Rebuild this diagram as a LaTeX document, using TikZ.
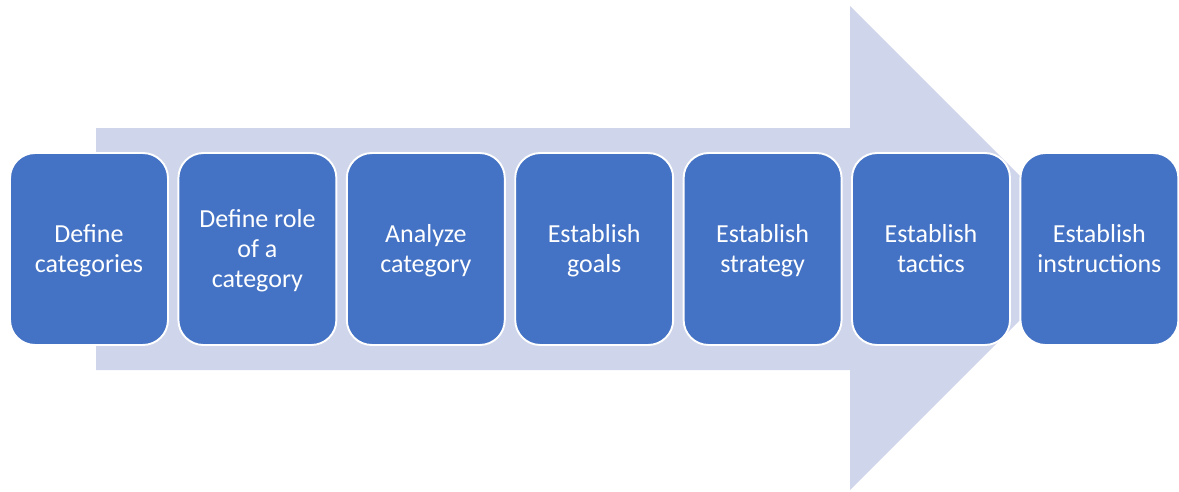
\documentclass[tikz,border=0pt]{standalone}
\usepackage{fontspec}
\setmainfont{Carlito}
\usepackage{tikz}

\definecolor{stageblue}{HTML}{4472C4}
\definecolor{arrowgray}{HTML}{CFD5EA}

\tikzset{
  stage/.style={draw=white, line width=1.1pt, fill=stageblue, rounded corners=0.5cm,
    minimum width=3.16cm, minimum height=3.84cm},
  stagetext/.style={text=white, align=center, yshift=-2.3pt,
    font=\fontsize{14.8}{17}\selectfont,
    execute at begin node=\strut, execute at end node=\strut}
}

\begin{document}
\begin{tikzpicture}[x=0.02cm, y=-0.02cm]
\useasboundingbox (0,0) rectangle (1179,491);

% big arrow behind the steps
\fill[arrowgray] (96,128) -- (850,128) -- (850,6) -- (1092,248)
  -- (850,490) -- (850,370) -- (96,370) -- cycle;

% steps
\node[stage, label={[stagetext]center:Define\\categories}] (s1) at (89,249) {};
\node[stage, label={[stagetext]center:Define role\\of a\\category}] (s2) at (257.4,249) {};
\node[stage, label={[stagetext]center:Analyze\\category}] (s3) at (425.8,249) {};
\node[stage, label={[stagetext]center:Establish\\goals}] (s4) at (594.2,249) {};
\node[stage, label={[stagetext]center:Establish\\strategy}] (s5) at (762.6,249) {};
\node[stage, label={[stagetext]center:Establish\\tactics}] (s6) at (931,249) {};
\node[stage, label={[stagetext]center:Establish\\instructions}] (s7) at (1099.4,249) {};
\end{tikzpicture}
\end{document}
